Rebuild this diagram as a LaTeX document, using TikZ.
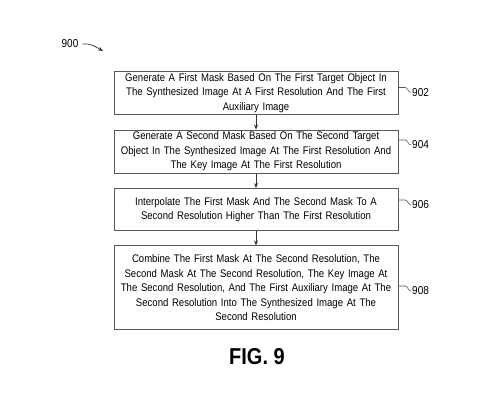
\documentclass[tikz,border=0pt]{standalone}
\usepackage{fontspec}
\setmainfont{Liberation Sans}[FakeStretch=0.87]
\usepackage{tikz}
\usetikzlibrary{arrows.meta,positioning}

\newcommand{\leadline}[2]{%
  \path (#2.west) ++(-6,-5) coordinate (k#2);
  \draw[lead] (#2.west) .. controls +(-3,0) and +(3,0) .. (k#2) -- (k#2 -| #1.east);
}

\begin{document}
\begin{tikzpicture}[
  x=1pt, y=-1pt,
  node distance=14.5pt,
  stepbox/.style={rectangle, draw=black!65, line width=0.8pt,
                  text width=280pt, align=center,
                  font=\fontsize{11}{14.5}\selectfont,
                  minimum width=284pt, minimum height=42pt, inner sep=2pt},
  arr/.style={-{Stealth[length=5pt,width=4pt]}, line width=0.8pt, black!80},
  lead/.style={line width=0.6pt, black!65},
  lbl/.style={font=\fontsize{11.5}{13}\selectfont, inner sep=1pt}
]
\useasboundingbox (0,0) rectangle (495,393);

\node[stepbox] (s902) at (256,93) {Generate A First Mask Based On The First Target Object In\\
  The Synthesized Image At A First Resolution And The First\\ Auxiliary Image};
\node[stepbox, below=of s902] (s904) {Generate A Second Mask Based On The Second Target\\
  Object In The Synthesized Image At The First Resolution And\\ The Key Image At The First Resolution};
\node[stepbox, below=of s904] (s906) {Interpolate The First Mask And The Second Mask To A\\
  Second Resolution Higher Than The First Resolution};
\node[stepbox, below=of s906, minimum height=84pt] (s908) {Combine The First Mask At The Second Resolution, The\\
  Second Mask At The Second Resolution, The Key Image At\\
  The Second Resolution, And The First Auxiliary Image At The\\
  Second Resolution Into The Synthesized Image At The\\ Second Resolution};

\draw[arr] (s902) -- (s904);
\draw[arr] (s904) -- (s906);
\draw[arr] (s906) -- (s908);

% reference numerals
\node[lbl, anchor=west] (n902) at (411,92.5) {902};
\node[lbl, anchor=west] (n904) at (411,145) {904};
\node[lbl, anchor=west] (n906) at (411,205) {906};
\node[lbl, anchor=west] (n908) at (411,291) {908};
\leadline{s902}{n902}
\leadline{s904}{n904}
\leadline{s906}{n906}
\leadline{s908}{n908}

\node[lbl] (n900) at (70,44) {900};
\coordinate (t900) at (103,51);
\draw[-{Stealth[length=5pt,width=4pt]}, line width=0.7pt, black!80]
  ([xshift=3pt]n900.east) to[out=5,in=150] (t900);

\node[font=\bfseries\fontsize{23}{26}\selectfont] (fig) at (257,357) {FIG. 9};
\end{tikzpicture}
\end{document}
